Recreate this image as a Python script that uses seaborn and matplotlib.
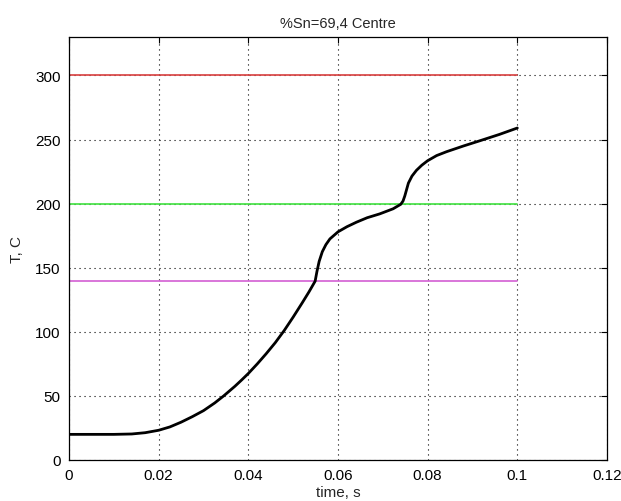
import matplotlib
matplotlib.use("Agg")
import matplotlib.pyplot as plt
import pandas as pd
import seaborn as sns

# cooling/heating curve, centre point
time_s = [0, 0.005, 0.010, 0.014, 0.017, 0.020, 0.0225, 0.025, 0.0275, 0.030,
          0.0325, 0.0345, 0.037, 0.0385, 0.040, 0.042, 0.044, 0.046, 0.048,
          0.050, 0.052, 0.0535, 0.0549, 0.0553, 0.0558, 0.0565, 0.0573, 0.0582,
          0.060, 0.062, 0.0641, 0.0665, 0.0693, 0.0723, 0.0740, 0.0745, 0.0749,
          0.0753, 0.0757, 0.0765, 0.0775, 0.0787, 0.080, 0.082, 0.0842, 0.088,
          0.0916, 0.096, 0.100]
temp_c = [20, 20, 20, 20.3, 21.3, 23.2, 25.8, 29.5, 33.8, 38.5,
          44.5, 50, 57.5, 62.4, 67.5, 75, 83, 91.5, 101,
          111.5, 122.5, 131, 139.5, 147, 155, 162.5, 168, 172.5,
          178, 182, 185.5, 189, 192, 196, 199.5, 202, 206,
          211, 216, 221.5, 226, 230, 233.5, 237.5, 240.5, 245,
          249, 254, 259]

# reference levels
level_values = [300, 200, 140]
level_colors = ["#d8403f", "#3fe03f", "#d35fd3"]
level_span = [0, 0.1]

x_ticks = [0, 0.02, 0.04, 0.06, 0.08, 0.1, 0.12]
x_labels = ["0", "0.02", "0.04", "0.06", "0.08", "0.1", "0.12"]
y_ticks = [0, 50, 100, 150, 200, 250, 300]

sns.set_style("white")
plt.rcParams['font.family'] = ['Liberation Sans', 'DejaVu Sans']

fig = plt.figure(figsize=(6.21, 5.02), dpi=100)
ax = fig.add_axes([69 / 621, 1 - 461 / 502, 538 / 621, 423 / 502])

for val, col in zip(level_values, level_colors):
    lv = pd.DataFrame({"t": level_span, "T": [val, val]})
    sns.lineplot(data=lv, x="t", y="T", color=col, linewidth=1.2, ax=ax)

curve = pd.DataFrame({"t": time_s, "T": temp_c})
sns.lineplot(data=curve, x="t", y="T", color="black", linewidth=2.0,
             sort=False, ax=ax)

ax.set_xlim(0, 0.12)
ax.set_ylim(0, 330)
ax.set_xticks(x_ticks)
ax.set_xticklabels(x_labels)
ax.set_yticks(y_ticks)

ax.grid(True, color="black", linestyle=(0, (1, 3.5)), linewidth=0.8)
ax.set_axisbelow(True)
for s in ax.spines.values():
    s.set_color("black")
    s.set_linewidth(0.9)
ax.tick_params(direction="in", length=4, width=0.8, top=True, right=True,
               labelsize=11, pad=6, colors="black")

ax.set_title("%Sn=69,4 Centre", fontsize=10.5, pad=7)
ax.set_xlabel("time, s", fontsize=11, labelpad=2)
ax.set_ylabel("T, C", fontsize=11, labelpad=8)

fig.savefig("out.png", dpi=100)
